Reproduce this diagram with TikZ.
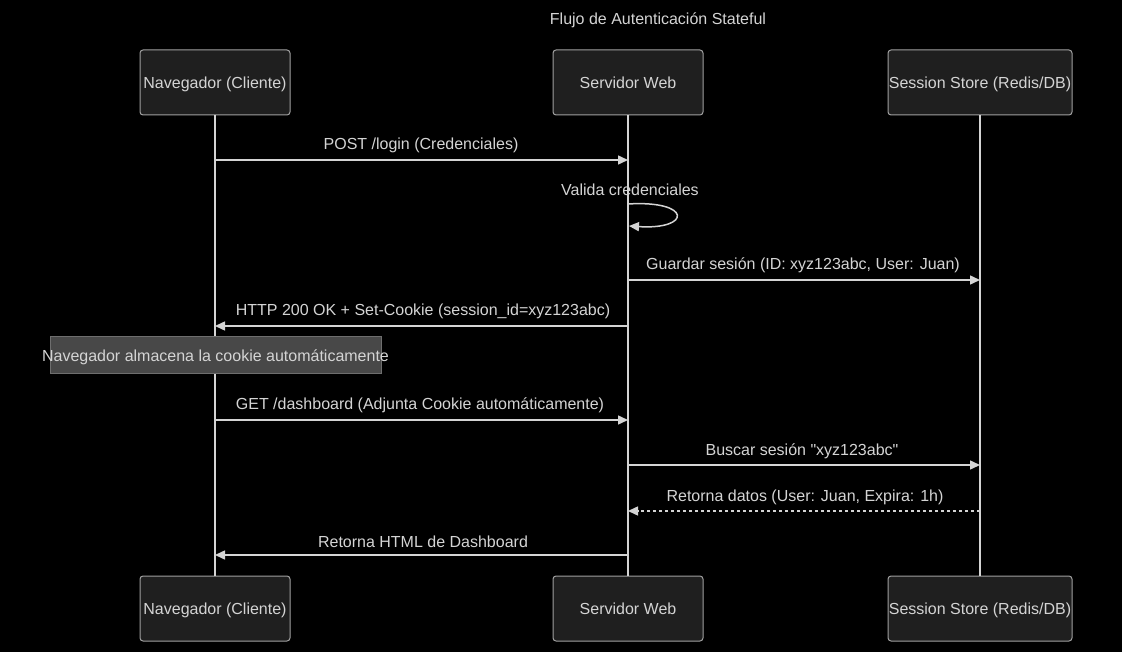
\documentclass[tikz,border=0pt]{standalone}
\usepackage{fontspec}
\setmainfont{Liberation Sans}
\usetikzlibrary{arrows.meta,positioning}

\definecolor{fondo}{RGB}{0,0,0}
\definecolor{caja}{RGB}{31,31,31}
\definecolor{borde}{RGB}{160,160,160}
\definecolor{texto}{RGB}{212,212,212}
\definecolor{linea}{RGB}{212,212,212}
\definecolor{nota}{RGB}{72,72,72}
\definecolor{notaborde}{RGB}{110,110,110}

\tikzset{
    actor/.style={draw=borde, fill=caja, rounded corners=3pt, line width=1pt,
        minimum width=150pt, minimum height=65pt, text=texto, inner xsep=0pt,
        text height=15.5pt, text depth=3.5pt,
        font=\fontsize{16}{19}\selectfont},
    vida/.style={draw=linea, line width=1.5pt},
    msg/.style={draw=linea, line width=1.5pt, -{Triangle[length=10pt,width=9pt]}},
    resp/.style={msg, dash pattern=on 3pt off 3pt},
    lbl/.style={text=texto, font=\fontsize{16}{19}\selectfont, inner sep=0pt,
        text height=15.5pt, text depth=3.5pt},
    notebox/.style={draw=notaborde, fill=nota, line width=1pt,
        minimum width=331pt, minimum height=36pt}
}

\begin{document}
\begin{tikzpicture}[x=1pt, y=-1pt]
    \fill[fondo] (0,0) rectangle (1122,652);
    \useasboundingbox (0,0) rectangle (1122,652);

    \node[lbl] (titulo) at (658,19) {Flujo de Autenticación Stateful};

    % participantes arriba
    \node[actor] (nav) at (215,82.5) {Navegador (Cliente)};
    \node[actor] (srv) at (628,82.5) {Servidor Web};
    \node[actor, minimum width=184pt] (store) at (980,82.5) {Session Store (Redis/DB)};

    % participantes abajo
    \node[actor] (navB) at (215,608.5) {Navegador (Cliente)};
    \node[actor] (srvB) at (628,608.5) {Servidor Web};
    \node[actor, minimum width=184pt] (storeB) at (980,608.5) {Session Store (Redis/DB)};

    % lineas de vida
    \draw[vida] (nav) -- (navB);
    \draw[vida] (srv) -- (srvB);
    \draw[vida] (store) -- (storeB);

    % mensajes
    \draw[msg] (nav |- 0,160) -- (srv |- 0,160);
    \node[lbl] (m1) at (421,144) {POST /login (Credenciales)};

    \node[lbl] (m2) at (630,190) {Valida credenciales};
    \coordinate (loopA) at (628,204);
    \coordinate (loopB) at (629,226);
    \draw[msg] (loopA) .. controls (692,200) and (692,230) .. (loopB);

    \draw[msg] (srv |- 0,280) -- (store |- 0,280);
    \node[lbl] (m3) at (803,264) {Guardar sesión (ID: xyz123abc, User: Juan)};

    \draw[msg] (srv |- 0,326) -- (nav |- 0,326);
    \node[lbl] (m4) at (423,310) {HTTP 200 OK + Set-Cookie (session\_id=xyz123abc)};

    \node[notebox] (nota1) at (215.5,355) {};
    \node[lbl] (nota1txt) at (nota1.center) {Navegador almacena la cookie automáticamente};

    \draw[msg] (nav |- 0,420) -- (srv |- 0,420);
    \node[lbl] (m5) at (420,403) {GET /dashboard (Adjunta Cookie automáticamente)};

    \draw[msg] (srv |- 0,465) -- (store |- 0,465);
    \node[lbl] (m6) at (802,449) {Buscar sesión \textquotedbl xyz123abc\textquotedbl};

    \draw[resp] (store |- 0,511) -- (srv |- 0,511);
    \node[lbl] (m7) at (805,495) {Retorna datos (User: Juan, Expira: 1h)};

    \draw[msg] (srv |- 0,555) -- (nav |- 0,555);
    \node[lbl] (m8) at (423,541) {Retorna HTML de Dashboard};
\end{tikzpicture}
\end{document}
